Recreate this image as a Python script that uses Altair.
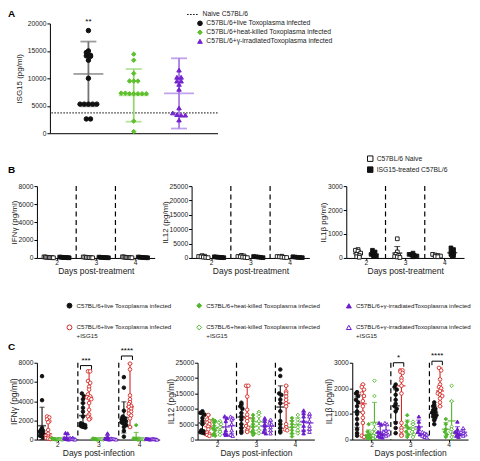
import altair as alt
import pandas as pd

FONT = "Liberation Sans"
BLACK = "#111111"
RED = "#d42a27"
GREEN = "#52b52c"
PURPLE = "#6a1ccc"
DAYS = [2, 3, 4]

# ---------------- Panel A : ISG15 ----------------
A_GROUPS = ["C57BL/6+live Toxoplasma infected",
            "C57BL/6+heat-killed  Toxoplasma infected",
            "C57BL/6+γ-irradiatedToxoplasma infected"]
A_LIVE = [18700, 15000, 14700, 14200, 14100, 14000, 13300, 10000,
          5300, 5300, 5300, 5300, 5300, 2600, 2600]
A_HEAT = [14400, 13300, 10900, 9500, 9500, 9500, 7300, 7200, 7200,
          7200, 7200, 7200, 7300, 2200, 300]
A_IRR = [11500, 10200, 10200, 9500, 9500, 8900, 8000, 4600, 3700,
         3400, 3300, 3300, 2400]
A_MEAN = [10800, 6900, 7250]
A_SD = [5900, 4800, 6400]
A_NAIVE = [3700]
A_NAIVE_LABEL = ["Naive C57BL/6"]
A_STARS = ["**", "", ""]

# ---------------- Panel B : ISG15 treatment ----------------
B_GROUPS = ["C57BL/6 Naive", "ISG15-treated C57BL/6"]
B_IFNG_NAIVE = [[120, 100, 80, 60, 50, 40, 30, 20], [110, 90, 70, 50, 40, 30, 20], [130, 100, 80, 60, 50, 40, 30, 20]]
B_IFNG_ISG = [[100, 80, 60, 50, 40, 30, 20], [90, 70, 50, 40, 30, 20], [100, 80, 60, 40, 30, 20]]
B_IL12_NAIVE = [[800, 600, 500, 400, 300, 200, 100], [900, 700, 500, 400, 300, 200, 100], [600, 500, 400, 300, 200, 150]]
B_IL12_ISG = [[400, 300, 250, 200, 150, 100], [500, 400, 300, 200, 100], [400, 300, 200, 150, 100]]
B_IL1B_NAIVE = [[350, 320, 280, 200, 150, 100, 50, 30], [800, 250, 150, 100, 60, 40, 20], [150, 120, 100, 80, 60, 50]]
B_IL1B_ISG = [[320, 250, 150, 100, 80, 60], [200, 150, 120, 100, 80, 50], [420, 350, 250, 200, 150, 100, 60]]

# ---------------- Panel C : infection +/- ISG15 ----------------
C_LIVE = "C57BL/6+live Toxoplasma infected"
C_HEAT = "C57BL/6+heat-killed  Toxoplasma infected"
C_IRR = "C57BL/6+γ-irradiatedToxoplasma infected"
C_LIVE_I = "C57BL/6+live Toxoplasma infected|+ISG15"
C_HEAT_I = "C57BL/6+heat-killed  Toxoplasma infected|+ISG15"
C_IRR_I = "C57BL/6+γ-irradiatedToxoplasma infected|+ISG15"
C_GROUPS_XORDER = [C_LIVE, C_LIVE_I, C_HEAT, C_HEAT_I, C_IRR, C_IRR_I]
C_GROUPS_LEGEND = [C_LIVE, C_HEAT, C_IRR, C_LIVE_I, C_HEAT_I, C_IRR_I]
RANGE_GROUPS = [C_LIVE_I]

C_IFNG_LIVE = [[6600, 4100, 1200, 1000, 900, 800, 700, 600, 500, 400, 300, 200],
               [4800, 4500, 4200, 3800, 3300, 2900, 2400, 1700, 1600, 1500, 1450, 1400, 1350, 1300, 1250],
               [6500, 5400, 3000, 2400, 2200, 2100, 2000, 1900, 1800, 1700, 1600, 1500, 1300, 900, 300]]
C_IFNG_LIVE_I = [[2400, 2300, 2100, 1900, 1800, 1000, 600, 400, 300, 200, 150, 100, 50],
                 [7100, 7100, 6100, 5900, 5500, 5200, 4700, 4500, 4400, 4300, 4200, 3800, 3100, 2600, 2400, 2200, 2100],
                 [7900, 7300, 4600, 4200, 3900, 3700, 3500, 3400, 3200, 3000, 2900, 2700, 2500, 2200, 1300]]
C_IFNG_HEAT = [[120, 90, 70, 50, 40, 30, 20, 10, 5], [100, 80, 60, 40, 30, 20, 10, 5], [1500, 100, 80, 60, 40, 20, 10, 5]]
C_IFNG_HEAT_I = [[80, 60, 40, 30, 20, 10, 5], [60, 50, 40, 30, 20, 10], [70, 50, 40, 30, 20, 10]]
C_IFNG_IRR = [[700, 650, 150, 100, 80, 50, 30, 20], [650, 300, 120, 80, 50, 30, 20], [100, 80, 60, 40, 30, 20]]
C_IFNG_IRR_I = [[200, 150, 100, 80, 50, 30, 20], [120, 80, 60, 40, 20], [100, 80, 60, 40, 20, 10]]

C_IL12_LIVE = [[9200, 8700, 8500, 8100, 7000, 6000, 5000, 3000, 2700, 2400, 2200, 2000],
               [12000, 11500, 10800, 10000, 8600, 7500, 6500, 5000, 3800, 2800, 2200],
               [22800, 20700, 15000, 14500, 13000, 11800, 9200, 6000, 5000, 3800, 2800, 2300]]
C_IL12_LIVE_I = [[8000, 6500, 6000, 5500, 5000, 4200, 3300, 2300, 1800, 1500, 1200],
                 [17500, 17500, 14000, 9700, 8100, 7000, 6000, 4400, 3800, 3000, 2500],
                 [17500, 15600, 15000, 14000, 12900, 11800, 10800, 5000, 4000, 3300, 3000]]
C_IL12_HEAT = [[6500, 6000, 5500, 4500, 3500, 3000, 2000, 1500, 1200],
               [8000, 7000, 6000, 5000, 4000, 3000, 2500, 2000, 1500],
               [7000, 6000, 5000, 4000, 3000, 2000, 1000]]
C_IL12_HEAT_I = [[6000, 5500, 5000, 4000, 3000, 2500, 1500],
                 [9000, 8500, 7500, 6000, 4500, 3000, 2000],
                 [8000, 6500, 5500, 4000, 3000, 2000]]
C_IL12_IRR = [[7600, 7000, 6000, 3000, 2000, 1700, 1500],
              [7000, 6000, 5000, 4500, 3500, 2500, 2000],
              [9500, 8500, 7500, 6000, 4500, 3000, 2000]]
C_IL12_IRR_I = [[7500, 7000, 6500, 5000, 3000, 1500, 1200],
                [6500, 5500, 5000, 4000, 3000, 2000],
                [8500, 7500, 6000, 4500, 3500, 2500]]

C_IL1B_LIVE = [[1850, 1800, 1700, 1550, 1450, 1300, 1100, 1000, 800, 600, 400, 250, 150],
               [2150, 2050, 1950, 1750, 1550, 1400, 1300, 1200, 1100, 650, 450, 250],
               [1450, 1350, 1300, 1200, 1150, 1100, 1050, 1000, 950, 900, 850, 750, 600]]
C_IL1B_LIVE_I = [[2150, 2050, 1950, 1800, 1700, 1500, 1300, 1050, 850, 650, 150, 100],
                 [2700, 2700, 2650, 2600, 2400, 2300, 2100, 1800, 650, 450, 350, 200, 150],
                 [2800, 2700, 2350, 2150, 2050, 2000, 1900, 1800, 1750, 1700, 1600, 1450, 1300]]
C_IL1B_HEAT = [[600, 300, 200, 150, 100, 80, 50, 30], [950, 700, 550, 450, 300, 200, 100], [800, 600, 400, 300, 200, 100]]
C_IL1B_HEAT_I = [[2300, 1700, 600, 400, 300, 250, 200, 150, 100], [700, 600, 500, 400, 300, 200, 100],
                 [2100, 1500, 500, 400, 300, 200, 100]]
C_IL1B_IRR = [[650, 600, 300, 250, 200, 150, 100, 80], [900, 700, 500, 400, 300, 200], [700, 400, 300, 250, 200, 150, 100]]
C_IL1B_IRR_I = [[650, 600, 350, 300, 250, 200, 150], [300, 250, 200, 150, 100, 80], [450, 350, 300, 250, 200, 150]]

C1_SIG = ["", "***", "****"]
C1_SIG_Y = [0, 7700, 8700]
C3_SIG = ["", "*", "****"]
C3_SIG_Y = [0, 3000, 3060]

INDEP = dict(color="independent", stroke="independent", fill="independent",
             shape="independent", strokeDash="independent")


# ---------------- helpers ----------------
def swarm(vals, bin_size, step, cap):
    order = sorted(range(len(vals)), key=lambda i: -vals[i])
    bins = {}
    for i in order:
        bins.setdefault(int(round(vals[i] / bin_size)), []).append(i)
    offs = [0.0] * len(vals)
    for idx in bins.values():
        n = len(idx)
        if n < 2:
            continue
        st = min(step, 2 * cap / (n - 1))
        for k, i in enumerate(idx):
            offs[i] = (k - (n - 1) / 2) * st
    return offs


def cyto_df(groups, series, offsets, ymax, width, height, step_px, cap):
    upp = 3.0 / width
    bin_size = ymax / height * 3.2
    rows = []
    for g, lists, off in zip(groups, series, offsets):
        for d, vals in zip(DAYS, lists):
            offs = swarm(vals, bin_size, step_px * upp, cap)
            for v, o in zip(vals, offs):
                rows.append({"day": d, "grp": g, "value": v, "xb": d + off,
                             "xj": d + off + o, "rng": g in RANGE_GROUPS})
    return pd.DataFrame(rows)


def bar_scale(domain, colors):
    # bar colours use their own key so the hidden bar legend never merges with the point legend
    return alt.Scale(domain=[g + "#" for g in domain], range=colors)


def cyto_panel(df, ymax, yticks, ytitle, xtitle, width, height,
               stroke_sc, fill_sc, shape_sc, color_sc, legend=None, title=None,
               sig=None, ytitle_size=8, psize=13, cap_px=5, mid_px=8):
    xsc = alt.Scale(domain=[1.5, 4.5], nice=False, zero=False)
    ysc = alt.Scale(domain=[0, ymax], nice=False)
    xax = alt.Axis(values=DAYS, format="d", title=xtitle, tickSize=2, labelPadding=0,
                   titleFontSize=8.5, titlePadding=0, grid=False, labelFlush=False)
    yax = alt.Axis(values=yticks, format="d", title=ytitle, titleFontSize=ytitle_size,
                   titlePadding=0, grid=False)

    def X(f):
        return alt.X(f, scale=xsc, axis=xax)

    def Y(f):
        return alt.Y(f, scale=ysc, axis=yax)

    seps = alt.Chart(pd.DataFrame({"x": [2.5, 3.5]})).mark_rule(
        color="black", strokeDash=[5, 3.5], strokeWidth=1.2).encode(x=X("x:Q"))
    summ = alt.Chart(df).transform_aggregate(
        mean="mean(value)", sd="stdev(value)", med="median(value)",
        mn="min(value)", mx="max(value)", groupby=["day", "grp", "xb", "rng"]
    ).transform_calculate(
        bkey="datum.grp + '#'",
        ctr="datum.rng ? datum.med : datum.mean",
        lo="datum.rng ? datum.mn : max(0, datum.mean - datum.sd)",
        hi="datum.rng ? datum.mx : datum.mean + datum.sd")
    col = alt.Color("bkey:N", scale=color_sc, legend=None)
    rule = summ.mark_rule(strokeWidth=1.1).encode(x=X("xb:Q"), y=Y("lo:Q"), y2="hi:Q", color=col)
    lo = summ.mark_tick(orient="horizontal", size=cap_px, thickness=1.1).encode(
        x=X("xb:Q"), y=Y("lo:Q"), color=col)
    hi = summ.mark_tick(orient="horizontal", size=cap_px, thickness=1.1).encode(
        x=X("xb:Q"), y=Y("hi:Q"), color=col)
    mid = summ.mark_tick(orient="horizontal", size=mid_px, thickness=1.6).encode(
        x=X("xb:Q"), y=Y("ctr:Q"), color=col)
    pts = alt.Chart(df).mark_point(size=psize, strokeWidth=0.9, opacity=1, fillOpacity=1).encode(
        x=X("xj:Q"), y=Y("value:Q"),
        stroke=alt.Stroke("grp:N", scale=stroke_sc, legend=legend),
        fill=alt.Fill("grp:N", scale=fill_sc, legend=legend),
        shape=alt.Shape("grp:N", scale=shape_sc, legend=legend))
    layers = [seps, rule, lo, hi, mid, pts]
    if sig is not None:
        sdf = pd.DataFrame(sig)
        hr = alt.Chart(sdf).mark_rule(color="black", strokeWidth=1).encode(
            x=X("x1:Q"), x2="x2:Q", y=Y("yb:Q"))
        l1 = alt.Chart(sdf).mark_rule(color="black", strokeWidth=1).encode(
            x=X("x1:Q"), y=Y("yb:Q"), y2="yl:Q")
        l2 = alt.Chart(sdf).mark_rule(color="black", strokeWidth=1).encode(
            x=X("x2:Q"), y=Y("yb:Q"), y2="yl:Q")
        tx = alt.Chart(sdf).mark_text(fontSize=8, baseline="middle", color="black").encode(
            x=X("xm:Q"), y=Y("yt:Q"), text="txt:N")
        layers += [hr, l1, l2, tx]
    ch = alt.layer(*layers).properties(width=width, height=height)
    if title is not None:
        ch = ch.properties(title=title)
    return ch


def sig_rows(labels, ys, off1, off2, ymax, height):
    vpp = ymax / height
    rows = []
    for d, t, y in zip(DAYS, labels, ys):
        if t:
            rows.append({"x1": d + off1 - 0.06, "x2": d + off2 + 0.06, "xm": d + (off1 + off2) / 2,
                         "yb": y, "yl": y - 4 * vpp, "yt": y + 5 * vpp, "txt": t})
    return rows


def letter(t, offset):
    return alt.TitleParams(t, anchor="start", frame="group", dx=-29, offset=offset,
                           fontSize=10, fontWeight="bold")


# ---------------- Panel A chart ----------------
A_W, A_H = 168, 110
xA = alt.Scale(domain=[-0.85, 2.85], nice=False, zero=False)
yA = alt.Scale(domain=[0, 20000], nice=False)
xaxA = alt.Axis(title=None, labels=False, ticks=False, grid=False)
yaxA = alt.Axis(values=[0, 5000, 10000, 15000, 20000], format="d", title="ISG15 (pg/ml)",
                titleFontSize=8, titlePadding=4, grid=False)

a_rows = []
for i, (g, vals) in enumerate(zip(A_GROUPS, [A_LIVE, A_HEAT, A_IRR])):
    offs = swarm(vals, 20000 / A_H * 4.0, 4.2 * 3.7 / A_W, 0.42)
    for v, o in zip(vals, offs):
        a_rows.append({"grp": g, "value": v, "xj": i + o})
dfA = pd.DataFrame(a_rows)
sumA = pd.DataFrame({"grp": A_GROUPS, "xb": [0, 1, 2], "mean": A_MEAN, "sd": A_SD,
                     "stars": A_STARS, "top": [20200] * 3})

A_COL = [BLACK, "#5cc02a", "#7424cf"]
A_BAR = ["#737373", "#95d672", "#a77ce2"]
strokeA = alt.Scale(domain=A_GROUPS, range=A_COL)
shapeA = alt.Scale(domain=A_GROUPS, range=["circle", "diamond", "triangle-up"])
barA = bar_scale(A_GROUPS, A_BAR)
legA = alt.Legend(title=None, orient="none", legendX=147, legendY=-3.5, labelFontSize=6.8,
                  symbolSize=22, rowPadding=0, labelOffset=3, padding=0, symbolStrokeWidth=1,
                  labelLimit=300, labelColor="#222")
legN = alt.Legend(title=None, orient="none", legendX=137, legendY=-15, labelFontSize=6.8,
                  symbolType="stroke", symbolSize=121, symbolStrokeWidth=1, symbolStrokeColor="black",
                  labelOffset=4, padding=0, labelColor="#222")


def XA(f):
    return alt.X(f, scale=xA, axis=xaxA)


def YA(f):
    return alt.Y(f, scale=yA, axis=yaxA)


naive = alt.Chart(pd.DataFrame({"v": A_NAIVE, "lbl": A_NAIVE_LABEL})).mark_rule(
    color="black", strokeWidth=1).encode(
    y=YA("v:Q"),
    strokeDash=alt.StrokeDash("lbl:N", scale=alt.Scale(domain=A_NAIVE_LABEL, range=[[1.5, 1.5]]),
                              legend=legN))
sA = alt.Chart(sumA).transform_calculate(
    lo="datum.mean - datum.sd", hi="datum.mean + datum.sd", bkey="datum.grp + '#'")
colA = alt.Color("bkey:N", scale=barA, legend=None)
barRule = sA.mark_rule(strokeWidth=1.8).encode(x=XA("xb:Q"), y=YA("lo:Q"), y2="hi:Q", color=colA)
capLo = sA.mark_tick(orient="horizontal", size=16, thickness=1.8).encode(x=XA("xb:Q"), y=YA("lo:Q"), color=colA)
capHi = sA.mark_tick(orient="horizontal", size=16, thickness=1.8).encode(x=XA("xb:Q"), y=YA("hi:Q"), color=colA)
meanT = sA.mark_tick(orient="horizontal", size=30, thickness=1.8).encode(x=XA("xb:Q"), y=YA("mean:Q"), color=colA)
ptsA = alt.Chart(dfA).mark_point(size=20, strokeWidth=1, opacity=1, fillOpacity=1, filled=True).encode(
    x=XA("xj:Q"), y=YA("value:Q"),
    stroke=alt.Stroke("grp:N", scale=strokeA, legend=legA),
    fill=alt.Fill("grp:N", scale=strokeA, legend=legA),
    shape=alt.Shape("grp:N", scale=shapeA, legend=legA))
starsA = alt.Chart(sumA).mark_text(fontSize=8, baseline="middle", color="black").encode(
    x=XA("xb:Q"), y=YA("top:Q"), text="stars:N")
chartA = alt.layer(naive, barRule, capLo, capHi, meanT, ptsA, starsA).properties(width=A_W, height=A_H)
spacer = alt.Chart(pd.DataFrame({"v": [0]})).mark_point(opacity=0, size=1).encode(
    x=alt.X("v:Q", axis=None), y=alt.Y("v:Q", axis=None)).properties(
    width=1, height=1, title=letter("A", 4))
rowA = alt.hconcat(spacer, chartA, spacing=12, bounds="flush").resolve_scale(**INDEP)

# ---------------- Panel B charts ----------------
B_H = 72
strokeB = alt.Scale(domain=B_GROUPS, range=[BLACK, BLACK])
fillB = alt.Scale(domain=B_GROUPS, range=["white", BLACK])
shapeB = alt.Scale(domain=B_GROUPS, range=["square", "square"])
barB = bar_scale(B_GROUPS, [BLACK, BLACK])
legB = alt.Legend(title=None, orient="none", legendX=20.5, legendY=-31, labelFontSize=6.8,
                  symbolSize=30, rowPadding=0, labelOffset=3, padding=0, symbolStrokeWidth=1,
                  labelColor="#222")
B_OFF = [-0.2, 0.2]


def b_panel(naive, isg, ymax, yticks, ytitle, width, legend=None, title=None):
    df = cyto_df(B_GROUPS, [naive, isg], B_OFF, ymax, width, B_H, 2.6, 0.12)
    return cyto_panel(df, ymax, yticks, ytitle, "Days post-treatment", width, B_H,
                      strokeB, fillB, shapeB, barB, legend=legend, title=title,
                      psize=14, cap_px=6, mid_px=10)


B1 = b_panel(B_IFNG_NAIVE, B_IFNG_ISG, 8000, [0, 2000, 4000, 6000, 8000], "IFNγ (pg/ml)", 118,
             title=letter("B", 8))
B2 = b_panel(B_IL12_NAIVE, B_IL12_ISG, 25000, [0, 5000, 10000, 15000, 20000, 25000], "IL12 (pg/ml)", 118)
B3 = b_panel(B_IL1B_NAIVE, B_IL1B_ISG, 3000, [0, 1000, 2000, 3000], "IL1β pg/ml)", 118, legend=legB)
rowB = alt.hconcat(B1, B2, B3, spacing=37, bounds="flush").resolve_scale(**INDEP)

# ---------------- Panel C charts ----------------
C_H = 77
C_STROKE = {C_LIVE: BLACK, C_HEAT: GREEN, C_IRR: PURPLE, C_LIVE_I: RED, C_HEAT_I: GREEN, C_IRR_I: PURPLE}
C_FILL = {C_LIVE: BLACK, C_HEAT: GREEN, C_IRR: PURPLE, C_LIVE_I: "white", C_HEAT_I: "white", C_IRR_I: "white"}
C_SHAPE = {C_LIVE: "circle", C_HEAT: "diamond", C_IRR: "triangle-up",
           C_LIVE_I: "circle", C_HEAT_I: "diamond", C_IRR_I: "triangle-up"}
strokeC = alt.Scale(domain=C_GROUPS_LEGEND, range=[C_STROKE[g] for g in C_GROUPS_LEGEND])
fillC = alt.Scale(domain=C_GROUPS_LEGEND, range=[C_FILL[g] for g in C_GROUPS_LEGEND])
shapeC = alt.Scale(domain=C_GROUPS_LEGEND, range=[C_SHAPE[g] for g in C_GROUPS_LEGEND])
barC = bar_scale(C_GROUPS_LEGEND, [C_STROKE[g] for g in C_GROUPS_LEGEND])
C_OFF = [-0.375, -0.225, -0.075, 0.075, 0.225, 0.375]
legC = alt.Legend(title=None, orient="none", legendX=-131.5, legendY=-60.5, columns=3,
                  direction="horizontal", columnPadding=22, rowPadding=12, labelFontSize=6.2,
                  symbolSize=24, labelOffset=4, padding=0, labelExpr="split(datum.label, '|')",
                  labelLimit=220, symbolStrokeWidth=1, labelColor="#222")


def c_panel(series, ymax, yticks, ytitle, width, legend=None, title=None, sig=None):
    df = cyto_df(C_GROUPS_XORDER, series, C_OFF, ymax, width, C_H, 2.2, 0.06)
    return cyto_panel(df, ymax, yticks, ytitle, "Days post-infection", width, C_H,
                      strokeC, fillC, shapeC, barC, legend=legend, title=title, sig=sig,
                      ytitle_size=8.5, psize=13, cap_px=5, mid_px=8)


C1 = c_panel([C_IFNG_LIVE, C_IFNG_LIVE_I, C_IFNG_HEAT, C_IFNG_HEAT_I, C_IFNG_IRR, C_IFNG_IRR_I],
             8000, [0, 2000, 4000, 6000, 8000], "IFNγ (pg/ml)", 123, title=letter("C", -5),
             sig=sig_rows(C1_SIG, C1_SIG_Y, C_OFF[0], C_OFF[1], 8000, C_H))
C2 = c_panel([C_IL12_LIVE, C_IL12_LIVE_I, C_IL12_HEAT, C_IL12_HEAT_I, C_IL12_IRR, C_IL12_IRR_I],
             25000, [0, 5000, 10000, 15000, 20000, 25000], "IL12 (pg/ml)", 117, legend=legC)
C3 = c_panel([C_IL1B_LIVE, C_IL1B_LIVE_I, C_IL1B_HEAT, C_IL1B_HEAT_I, C_IL1B_IRR, C_IL1B_IRR_I],
             3000, [0, 1000, 2000, 3000], "IL1β (pg/ml)", 116,
             sig=sig_rows(C3_SIG, C3_SIG_Y, C_OFF[0], C_OFF[1], 3000, C_H))
rowC = alt.hconcat(C1, C2, C3, spacing=38, bounds="flush").resolve_scale(**INDEP)

chart = alt.vconcat(
    rowA,
    alt.vconcat(rowB, rowC, spacing=26).resolve_scale(**INDEP),
    spacing=18
).resolve_scale(**INDEP).properties(padding=0).configure(font=FONT).configure_view(
    stroke=None
).configure_axis(
    labelFont=FONT, titleFont=FONT, labelFontSize=6.7, labelColor="#222", titleColor="#222",
    titleFontWeight="normal", domainColor="black", tickColor="black", domainWidth=1,
    tickWidth=1, tickSize=3, labelPadding=1
).configure_title(font=FONT, color="black")

chart.save("out.html", embed_options={"renderer": "svg", "actions": False})
